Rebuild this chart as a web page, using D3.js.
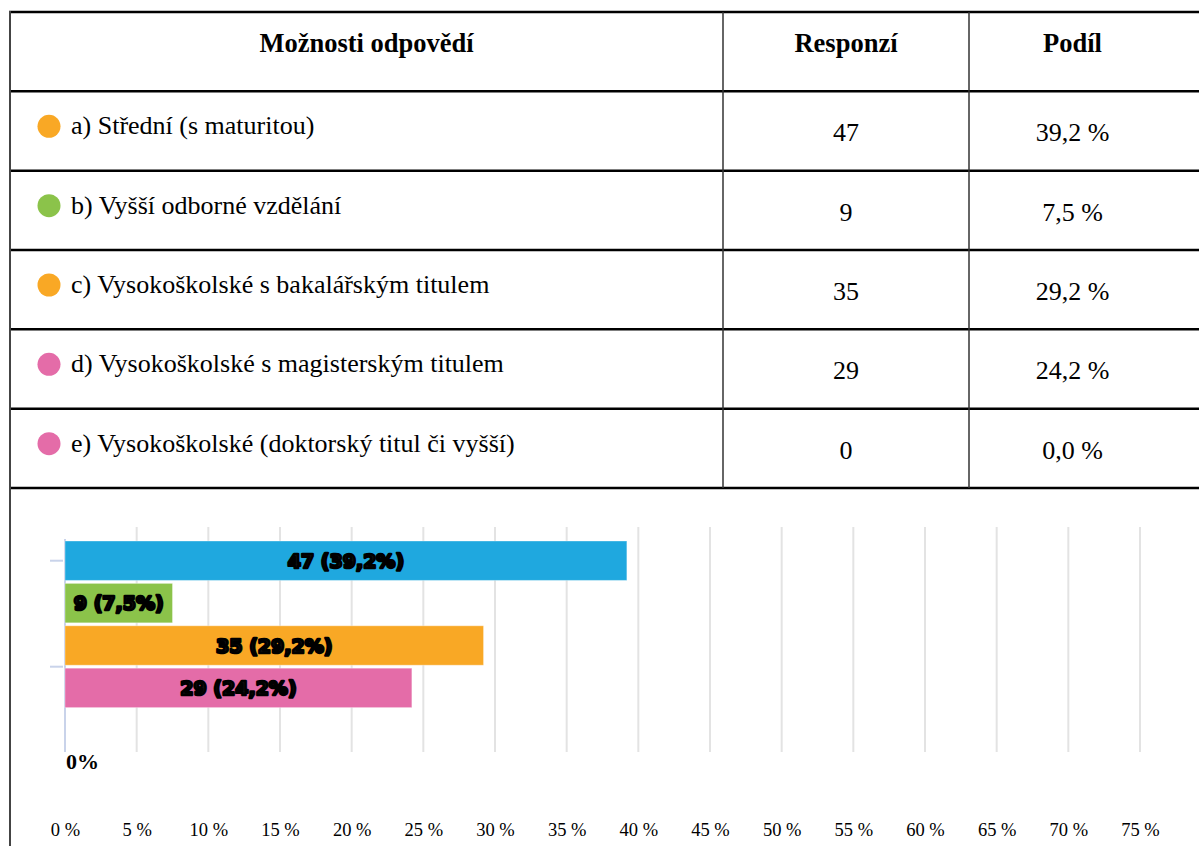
<!DOCTYPE html>
<html>
<head>
<meta charset="utf-8">
<script src="https://cdn.jsdelivr.net/npm/d3@7/dist/d3.min.js"></script>
<style>
  html, body { margin: 0; padding: 0; background: #fff; }
  svg { display: block; }
</style>
</head>
<body>
<svg id="chart" width="1199" height="846"></svg>
<script>
// ---- data ----
const headers = ["Možnosti odpovědí", "Responzí", "Podíl"];
const categories = [
  "a) Střední (s maturitou)",
  "b) Vyšší odborné vzdělání",
  "c) Vysokoškolské s bakalářským titulem",
  "d) Vysokoškolské s magisterským titulem",
  "e) Vysokoškolské (doktorský titul či vyšší)"
];
const responses = [47, 9, 35, 29, 0];
const shares = [39.2, 7.5, 29.2, 24.2, 0.0];
const circleColors = ["#F9A825", "#8BC34A", "#F9A825", "#E46CA8", "#E46CA8"];
const barColors = ["#1FA8DF", "#8BC34A", "#F9A825", "#E46CA8", "#E46CA8"];
const xTicks = [0, 5, 10, 15, 20, 25, 30, 35, 40, 45, 50, 55, 60, 65, 70, 75];

const fmt1 = v => v.toFixed(1).replace(".", ",");

const svg = d3.select("#chart");
const serif = "'Liberation Serif', 'Times New Roman', serif";

// ---- table ----
const rowKeys = ["header"].concat(categories);
const rowY = d3.scaleBand().domain(rowKeys).range([12, 488]);
const colEdges = [10, 723, 969, 1210];

const tbl = svg.append("g");
rowKeys.concat(["end"]).forEach(k => {
  const yy = k === "end" ? rowY.range()[1] : rowY(k);
  tbl.append("line").attr("x1", 9).attr("x2", 1199).attr("y1", yy).attr("y2", yy)
    .attr("stroke", "#000").attr("stroke-width", 2.5);
});
[colEdges[1], colEdges[2]].forEach(xx => {
  tbl.append("line").attr("x1", xx).attr("x2", xx).attr("y1", 12).attr("y2", 488)
    .attr("stroke", "#333").attr("stroke-width", 1.5);
});
tbl.append("line").attr("x1", 10).attr("x2", 10).attr("y1", 11).attr("y2", 846)
  .attr("stroke", "#444").attr("stroke-width", 2);

headers.forEach((h, i) => {
  tbl.append("text")
    .attr("x", (colEdges[i] + colEdges[i + 1]) / 2 + (i === 2 ? -17 : 0))
    .attr("y", rowY("header") + 40)
    .attr("text-anchor", "middle")
    .attr("font-family", serif).attr("font-weight", "bold").attr("font-size", 26.5)
    .attr("fill", "#000").text(h);
});

const rows = tbl.selectAll("g.row").data(categories).enter().append("g").attr("class", "row");
rows.append("circle")
  .attr("cx", 49).attr("cy", d => rowY(d) + 35).attr("r", 11.5)
  .attr("fill", (d, i) => circleColors[i]);
rows.append("text")
  .attr("x", 71).attr("y", d => rowY(d) + 43)
  .attr("font-family", serif).attr("font-size", 26).attr("fill", "#000")
  .text(d => d);
rows.append("text")
  .attr("x", (colEdges[1] + colEdges[2]) / 2).attr("y", d => rowY(d) + 50)
  .attr("text-anchor", "middle")
  .attr("font-family", serif).attr("font-size", 26).attr("fill", "#000")
  .text((d, i) => responses[i]);
rows.append("text")
  .attr("x", (colEdges[2] + colEdges[3]) / 2 - 17).attr("y", d => rowY(d) + 50)
  .attr("text-anchor", "middle")
  .attr("font-family", serif).attr("font-size", 26).attr("fill", "#000")
  .text((d, i) => fmt1(shares[i]) + " %");

// ---- chart ----
const x = d3.scaleLinear().domain([0, 75]).range([65, 1140]);
const y = d3.scaleBand().domain(categories).range([541, 750]).paddingInner(0.07);

svg.append("g").selectAll("line").data(xTicks.filter(t => t > 0)).enter().append("line")
  .attr("x1", d => x(d)).attr("x2", d => x(d))
  .attr("y1", 527).attr("y2", 752)
  .attr("stroke", "#e3e3e3").attr("stroke-width", 2);

svg.append("line").attr("x1", x(0)).attr("x2", x(0)).attr("y1", 539).attr("y2", 752)
  .attr("stroke", "#c9d3ea").attr("stroke-width", 2);
[y(categories[0]) + y.bandwidth() / 2, (y(categories[2]) + y.bandwidth() + y(categories[3])) / 2].forEach(ty => {
  svg.append("line").attr("x1", 50).attr("x2", 63).attr("y1", ty).attr("y2", ty)
    .attr("stroke", "#c9d3ea").attr("stroke-width", 2);
});

const bars = svg.append("g");
bars.selectAll("rect").data(categories).enter().append("rect")
  .attr("x", x(0))
  .attr("y", d => y(d))
  .attr("width", (d, i) => x(shares[i]) - x(0))
  .attr("height", y.bandwidth())
  .attr("fill", (d, i) => barColors[i])
  .attr("stroke", "rgba(255,255,255,0.35)").attr("stroke-width", 1)
  .style("display", (d, i) => shares[i] > 0 ? null : "none");

bars.selectAll("text.bl").data(categories).enter().append("text")
  .attr("class", "bl")
  .filter((d, i) => shares[i] > 0)
  .attr("x", d => { const i = categories.indexOf(d); return (x(0) + x(shares[i])) / 2; })
  .attr("y", d => y(d) + y.bandwidth() / 2 + 7)
  .attr("text-anchor", "middle")
  .attr("font-family", "'DejaVu Sans', sans-serif").attr("font-weight", "bold")
  .attr("font-size", 19)
  .attr("fill", "#111").attr("stroke", "#000").attr("stroke-width", 2.6)
  .attr("stroke-linejoin", "round")
  .text(d => { const i = categories.indexOf(d); return responses[i] + " (" + fmt1(shares[i]) + "%)"; });

categories.forEach((c, i) => {
  if (shares[i] === 0) {
    svg.append("text")
      .attr("x", x(0) + 1).attr("y", y(c) + y.bandwidth() + 19)
      .attr("font-family", serif).attr("font-weight", "bold").attr("font-size", 22)
      .attr("fill", "#000").text(shares[i] + "%");
  }
});

const xAxis = d3.axisBottom(x).tickValues(xTicks).tickSize(0).tickPadding(0)
  .tickFormat(d => d + "\u00a0%");
const gx = svg.append("g").attr("transform", "translate(0,822)").call(xAxis);
gx.select(".domain").remove();
gx.selectAll("text")
  .attr("font-family", serif).attr("font-size", 18.5).attr("fill", "#000")
  .attr("dy", "0.75em");
</script>
</body>
</html>
